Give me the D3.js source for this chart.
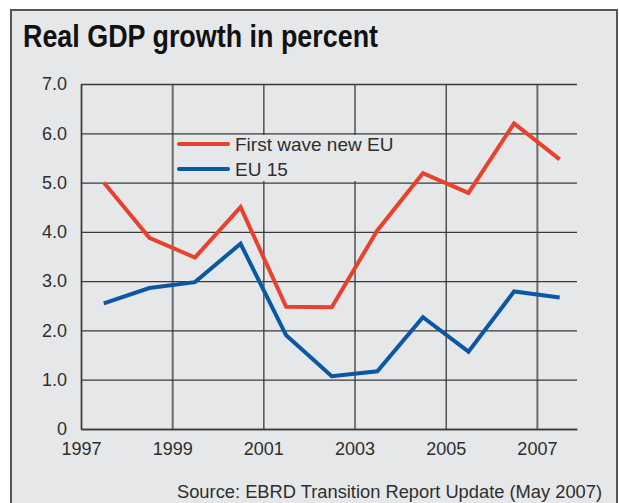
<!DOCTYPE html>
<html>
<head>
<meta charset="utf-8">
<title>Real GDP growth in percent</title>
<style>
  body { margin: 0; background: #fff; }
  svg { display: block; }
  .tick text { font-family: "Liberation Sans", Arial, sans-serif; font-size: 18px; fill: #2e2e2e; }
  .grid line { stroke: #3a3a3a; stroke-width: 1.3px; }
  .grid path { stroke: #3a3a3a; stroke-width: 1.5px; }
  .series { fill: none; stroke-width: 4px; stroke-linejoin: miter; }
</style>
</head>
<body>
<svg width="619" height="503"></svg>
<script src="https://cdn.jsdelivr.net/npm/d3@7"></script>
<script>
// data
var years = [1997, 1998, 1999, 2000, 2001, 2002, 2003, 2004, 2005, 2006, 2007];
var firstWave = [5.0, 3.88, 3.48, 4.5, 2.48, 2.47, 4.03, 5.19, 4.79, 6.2, 5.47];
var eu15 = [2.55, 2.86, 2.98, 3.76, 1.9, 1.07, 1.17, 2.27, 1.57, 2.79, 2.67];
var yTicks = [0, 1, 2, 3, 4, 5, 6, 7];
var xTicks = [1997, 1999, 2001, 2003, 2005, 2007];
var seriesNames = ["First wave new EU", "EU 15"];
var colors = ["#e8412c", "#0b57a4"];

var svg = d3.select("svg"),
    margin = {top: 84, right: 42, bottom: 74, left: 81},
    width = +svg.attr("width") - margin.left - margin.right,
    height = +svg.attr("height") - margin.top - margin.bottom;

// panel background + frame
svg.append("rect")
    .attr("x", 11).attr("y", 10).attr("width", 606).attr("height", 500)
    .attr("fill", "#e6e7e9").attr("stroke", "#555").attr("stroke-width", 2);

svg.append("text")
    .attr("x", 23).attr("y", 47)
    .attr("textLength", 355)
    .attr("lengthAdjust", "spacingAndGlyphs")
    .style("font-family", "'Liberation Sans', Arial, sans-serif")
    .style("font-weight", "bold")
    .style("font-size", "32px")
    .style("fill", "#111")
    .text("Real GDP growth in percent");

var x = d3.scaleLinear().domain([1997, 2007.88]).range([0, width]),
    y = d3.scaleLinear().domain([0, 7]).range([height, 0]);

var g = svg.append("g")
    .attr("transform", "translate(" + margin.left + "," + margin.top + ")");

g.append("g")
    .attr("class", "grid")
    .attr("transform", "translate(0," + height + ")")
    .call(d3.axisBottom(x).tickValues(xTicks).tickFormat(d3.format("d"))
      .tickSize(-height).tickSizeOuter(0).tickPadding(13));

g.append("g")
    .attr("class", "grid")
    .call(d3.axisLeft(y).tickValues(yTicks)
      .tickFormat(function(d) { return d === 0 ? "0" : d.toFixed(1); })
      .tickSize(-width).tickSizeOuter(0).tickPadding(14));

g.selectAll(".grid .tick line").filter(function(d) { return d === 1999 || d === 2007; })
    .style("stroke", "#6b6b6b").style("stroke-width", "2px");

var line = d3.line()
    .x(function(d) { return x(d.year + 0.5); })
    .y(function(d) { return y(d.value); });

[firstWave, eu15].forEach(function(vals, i) {
  g.append("path")
      .datum(years.map(function(yr, j) { return {year: yr, value: vals[j]}; }))
      .attr("class", "series")
      .attr("stroke", colors[i])
      .attr("d", line);
});

// legend
var legend = svg.append("g").attr("transform", "translate(174,135)");
legend.append("rect")
    .attr("width", 228).attr("height", 46)
    .attr("fill", "#e6e7e9");
seriesNames.forEach(function(name, i) {
  var row = legend.append("g").attr("transform", "translate(0," + (9 + i * 25) + ")");
  row.append("line")
      .attr("x1", 5).attr("x2", 54)
      .attr("stroke", colors[i]).attr("stroke-width", 4).attr("stroke-linecap", "round");
  row.append("text")
      .attr("x", 61).attr("dy", "0.36em")
      .style("font-family", "'Liberation Sans', Arial, sans-serif")
      .style("font-size", "19px")
      .style("fill", "#2e2e2e")
      .text(name);
});

svg.append("text")
    .attr("x", 602).attr("y", 498)
    .attr("text-anchor", "end")
    .attr("textLength", 425)
    .attr("lengthAdjust", "spacingAndGlyphs")
    .style("font-family", "'Liberation Sans', Arial, sans-serif")
    .style("font-size", "17.5px")
    .style("fill", "#2e2e2e")
    .text("Source: EBRD Transition Report Update (May 2007)");
</script>
</body>
</html>
